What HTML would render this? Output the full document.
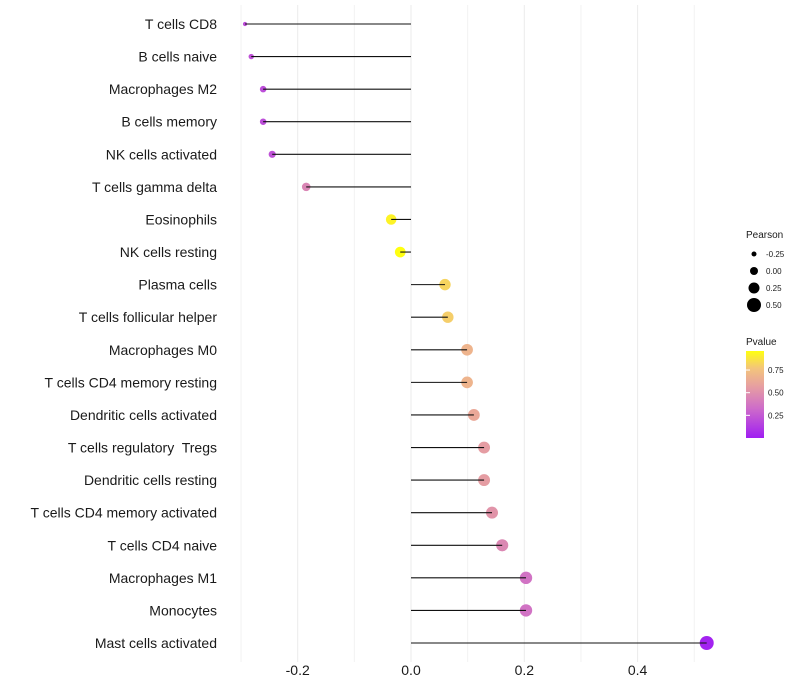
<!DOCTYPE html>
<html><head><meta charset="utf-8"><style>
html,body{margin:0;padding:0;background:#fff;}
svg{display:block;font-family:"Liberation Sans",Arial,sans-serif;}
text{white-space:pre;}
</style></head><body>
<svg id="chart" width="800" height="700">
<defs><linearGradient id="pg" x1="0" y1="1" x2="0" y2="0">
<stop offset="0" stop-color="#a01ef2"/><stop offset="0.35" stop-color="#cf6ec8"/><stop offset="0.6" stop-color="#e7a0a0"/><stop offset="0.8" stop-color="#f3c47c"/><stop offset="1" stop-color="#ffff10"/>
</linearGradient></defs>
<g id="grid"></g>
<g id="marks"></g>
<g id="ylabels"></g>
<g id="xlabels"></g>
<g>
<text x="746" y="238" font-size="10" fill="#1a1a1a">Pearson</text>
<g id="sizeleg"></g>
</g>
<g>
<text x="746" y="345" font-size="10" fill="#1a1a1a">Pvalue</text>
<rect x="746" y="351" width="18" height="87" fill="url(#pg)"/>
<g id="colleg"></g>
</g>
</svg>
<script>
const categories=["T cells CD8","B cells naive","Macrophages M2","B cells memory","NK cells activated","T cells gamma delta","Eosinophils","NK cells resting","Plasma cells","T cells follicular helper","Macrophages M0","T cells CD4 memory resting","Dendritic cells activated","T cells regulatory  Tregs","Dendritic cells resting","T cells CD4 memory activated","T cells CD4 naive","Macrophages M1","Monocytes","Mast cells activated"];
const pearson=[-0.293,-0.282,-0.261,-0.261,-0.245,-0.185,-0.035,-0.019,0.060,0.065,0.099,0.099,0.111,0.129,0.129,0.143,0.161,0.203,0.203,0.522];
const pvalue=[0.2,0.22,0.2,0.2,0.22,0.45,0.92,0.96,0.82,0.8,0.68,0.68,0.62,0.56,0.56,0.52,0.46,0.36,0.36,0.02];
const xTicks=[-0.2,0.0,0.2,0.4];
const xMinor=[-0.3,-0.1,0.1,0.3,0.5];
const sizeLegend=[-0.25,0,0.25,0.5];
const colorTicks=[0.25,0.5,0.75];
const NS="http://www.w3.org/2000/svg";
const xs=v=>411+v*566.5;
const ys=i=>24+i*(619/19);
const rs=v=>7*Math.pow(Math.max(0.004,(v+0.3)/0.82),0.25);
const rl=v=>4+6*v;
const pY=p=>438-p*(87/0.96);
const stops=[[0,[160,30,242]],[0.35,[207,110,200]],[0.6,[231,160,160]],[0.8,[243,196,124]],[1,[255,255,16]]];
function col(p){let t=Math.max(0,Math.min(1,p/0.96));for(let i=1;i<stops.length;i++){if(t<=stops[i][0]){const a=stops[i-1],b=stops[i];const f=(t-a[0])/(b[0]-a[0]);const c=a[1].map((x,k)=>Math.round(x+(b[1][k]-x)*f));return `rgb(${c})`;}}return "rgb(255,255,16)";}
function el(tag,attrs,parent){const e=document.createElementNS(NS,tag);for(const k in attrs)e.setAttribute(k,attrs[k]);parent.appendChild(e);return e;}
const grid=document.getElementById('grid'),marks=document.getElementById('marks'),yl=document.getElementById('ylabels'),xl=document.getElementById('xlabels');
xMinor.forEach(v=>{const l=el('line',{x1:xs(v),x2:xs(v),y1:5,y2:662,stroke:'#f2f2f2','stroke-width':1},grid);

});
xTicks.forEach(v=>{const l=el('line',{x1:xs(v),x2:xs(v),y1:5,y2:662,stroke:'#ebebeb','stroke-width':1},grid);


const t=el('text',{x:xs(v),y:675,'text-anchor':'middle','font-size':14,fill:'#1a1a1a'},xl);t.textContent=v.toFixed(1);

});
categories.forEach((c,i)=>{const y=ys(i);
const t=el('text',{x:217,y:y+5,'text-anchor':'end','font-size':14,fill:'#1a1a1a'},yl);t.textContent=c;


const d=el('circle',{cx:xs(pearson[i]),cy:y,r:rs(pearson[i]),fill:col(pvalue[i])},marks);


const l=el('line',{x1:xs(0),x2:xs(pearson[i]),y1:y,y2:y,stroke:'#111','stroke-width':1.1},marks);

});
const sl=document.getElementById('sizeleg');
sizeLegend.forEach((v,i)=>{const y=254+i*17;
const c=el('circle',{cx:754,cy:y,r:rl(v),fill:'#000'},sl);


const t=el('text',{x:766,y:y+3,'font-size':8,fill:'#1a1a1a'},sl);t.textContent=v.toFixed(2);

});
const cl=document.getElementById('colleg');
colorTicks.forEach(p=>{const y=pY(p);
const tk=el('line',{x1:746,x2:750,y1:y,y2:y,stroke:'#fff','stroke-width':1},cl);


const t=el('text',{x:768,y:y+3,'font-size':8,fill:'#1a1a1a'},cl);t.textContent=p.toFixed(2);

});
</script>
</body></html>
